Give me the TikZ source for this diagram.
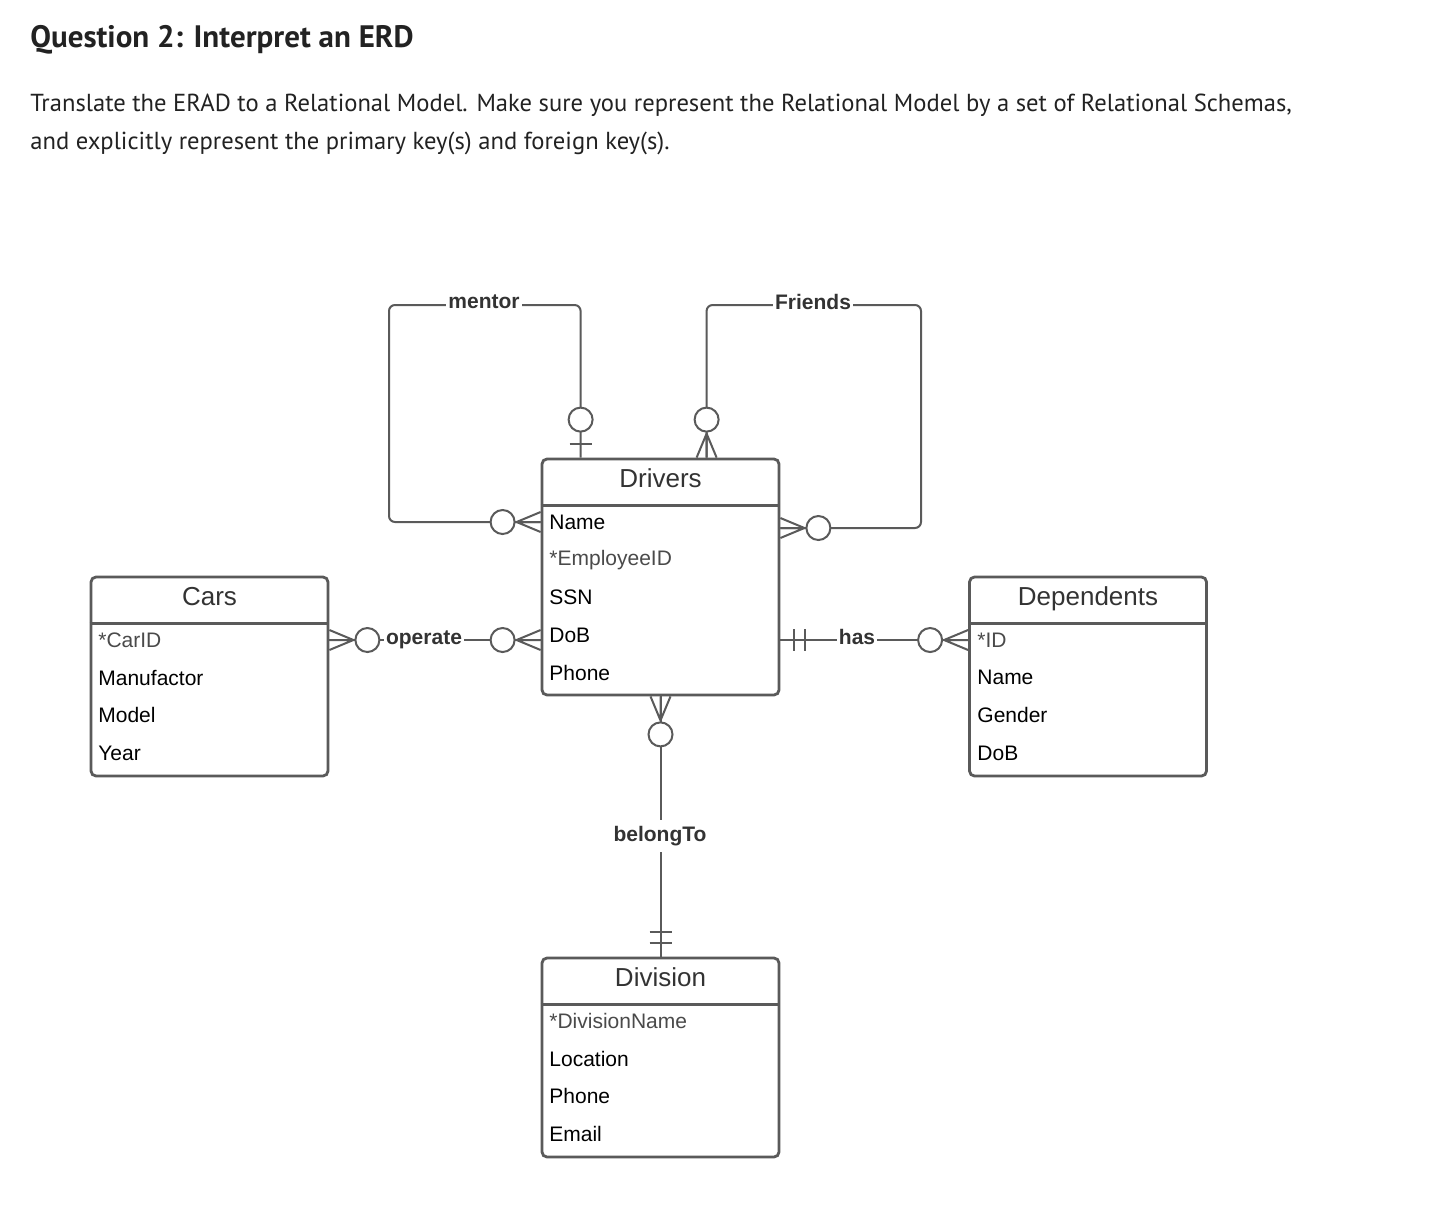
\documentclass[tikz,border=0pt]{standalone}
\usepackage{fontspec}
\setmainfont{Liberation Sans}
\newfontfamily\headfont{PT Sans}
\usepackage{xcolor}
\usetikzlibrary{positioning,calc}
\definecolor{linegray}{HTML}{5A5A5A}
\definecolor{keygray}{HTML}{4A4A4A}
\definecolor{headblack}{HTML}{222222}
\newcommand\kattr[1]{\textcolor{keygray}{#1}}
\tikzset{
  entity/.style={draw=linegray,line width=1.4pt,rounded corners=2.5pt,minimum width=118.5pt,inner sep=0pt},
  etitle/.style={anchor=base,font=\fontsize{13}{15}\selectfont,text=black!80,inner sep=0pt},
  attr/.style={anchor=west,font=\fontsize{10.5}{12}\selectfont,inner sep=0pt},
  rel/.style={draw=linegray,line width=1pt},
  rlabel/.style={fill=white,font=\bfseries\fontsize{10.5}{12}\selectfont,text=black!80,inner sep=1pt},
  zmany/.pic={\draw[rel] (0,-10) -- (24,0) -- (0,10) (0,0) -- (24,0);
    \draw[rel,fill=white] (38,0) circle[radius=6pt];},
  zone/.pic={\draw[rel] (14,-11) -- (14,11);
    \draw[rel,fill=white] (38,0) circle[radius=6pt];},
  oone/.pic={\draw[rel] (14,-11) -- (14,11) (25,-11) -- (25,11);},
}
\begin{document}
\begin{tikzpicture}[x=0.5pt,y=-0.5pt]
        \useasboundingbox[fill=white] (0,0) rectangle (1443,1226);

        % question text
        \node[anchor=base west,inner sep=0pt,text=headblack,font=\headfont\bfseries\fontsize{15.5}{18}\selectfont] (q) at (30,47) {Question 2: Interpret an ERD};
        \node[anchor=base west,inner sep=0pt,text=headblack,font=\headfont\fontsize{12.3}{15}\selectfont] (t1) at (30,111) {Translate the ERAD to a Relational Model. Make sure you represent the Relational Model by a set of Relational Schemas,};
        \node[anchor=base west,inner sep=0pt,text=headblack,font=\headfont\fontsize{12.3}{15}\selectfont] (t2) at (30,149) {and explicitly represent the primary key(s) and foreign key(s).};

        % entities
        \node[entity,minimum height=118pt] (drv) at (660.5,577) {};
        \node[entity,minimum height=99.5pt] (car) at (209.5,676.5) {};
        \node[entity,minimum height=99.5pt] (dep) at (1088,676.5) {};
        \node[entity,minimum height=99.5pt] (div) at (660.5,1057.5) {};

        \foreach \e/\t in {drv/Drivers,car/Cars,dep/Dependents,div/Division}{
          \node[etitle] (\e-t) at ([yshift=-15pt]\e.north) {\t};
          \draw[draw=linegray,line width=1.4pt] ([yshift=-24pt]\e.north west) -- ([yshift=-24pt]\e.north east);
        }

        \foreach \a [count=\i] in {Name,\kattr{*EmployeeID},SSN,DoB,Phone}
          \node[attr] (drv-\i) at (549,{522+(\i-1)*37.8}) {\a};
        \foreach \a [count=\i] in {\kattr{*CarID},Manufactor,Model,Year}
          \node[attr] (car-\i) at (98,{640+(\i-1)*37.7}) {\a};
        \foreach \a [count=\i] in {\kattr{*ID},Name,Gender,DoB}
          \node[attr] (dep-\i) at (977,{640+(\i-1)*37.7}) {\a};
        \foreach \a [count=\i] in {\kattr{*DivisionName},Location,Phone,Email}
          \node[attr] (div-\i) at (549,{1021+(\i-1)*37.7}) {\a};

        % relationships
        \coordinate (mtop) at ([xshift=20pt]drv.north west);
        \coordinate (ftop) at ([xshift=83pt]drv.north west);
        \coordinate (mleft) at (drv.west |- drv-1);
        \coordinate (fright) at ([yshift=-3pt]drv.east |- drv-1);
        \coordinate (opa) at (car.east |- car-1);
        \coordinate (opb) at (drv.west |- car-1);
        \coordinate (hsa) at (drv.east |- dep-1);
        \coordinate (hsb) at (dep.west |- dep-1);

        \draw[rel,rounded corners=3pt] (mtop) |- (389,305) |- (mleft);
        \draw[rel,rounded corners=3pt] (ftop) |- (921,305) |- (fright);
        \draw[rel] (opa) -- (opb);
        \draw[rel] (hsa) -- (hsb);
        \draw[rel] (drv.south) -- (div.north);

        \node[rlabel] (ml) at (484,302) {mentor};
        \node[rlabel] (fl) at (813,302) {Friends};
        \node[rlabel] (ol) at (424,640) {operate};
        \node[rlabel] (hl) at (857,637) {has};
        \node[rlabel,inner sep=3pt] (bl) at (660,836) {belongTo};

        \pic[rotate=90] at (mtop) {zone};
        \pic[rotate=180] at (mleft) {zmany};
        \pic[rotate=90] at (ftop) {zmany};
        \pic at (fright) {zmany};
        \pic at (opa) {zmany};
        \pic[rotate=180] at (opb) {zmany};
        \pic at (hsa) {oone};
        \pic[rotate=180] at (hsb) {zmany};
        \pic[rotate=-90] at (drv.south) {zmany};
        \pic[rotate=90] at (div.north) {oone};
      \end{tikzpicture}
\end{document}
